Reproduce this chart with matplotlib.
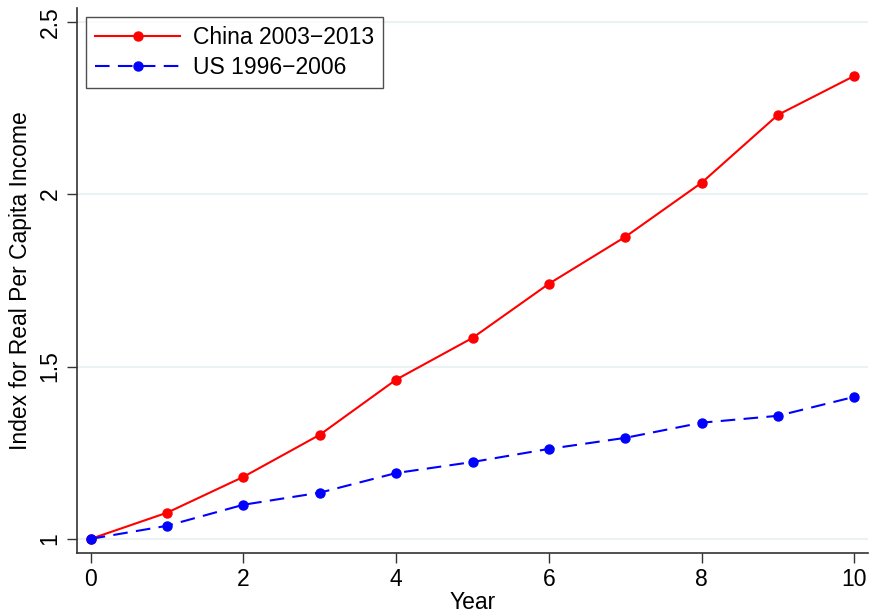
import matplotlib
matplotlib.use("Agg")
import matplotlib.pyplot as plt

years = [0, 1, 2, 3, 4, 5, 6, 7, 8, 9, 10]
china = [1.0, 1.076, 1.180, 1.302, 1.462, 1.583, 1.740, 1.876, 2.033, 2.230, 2.343]
us = [1.0, 1.038, 1.099, 1.134, 1.191, 1.223, 1.261, 1.293, 1.337, 1.357, 1.412]
xticks = [0, 2, 4, 6, 8, 10]
yticks = [1, 1.5, 2, 2.5]
ytick_labels = ["1", "1.5", "2", "2.5"]

plt.rcParams['font.family'] = ['Liberation Sans', 'DejaVu Sans']

fig = plt.figure(figsize=(8.69, 6.15), dpi=100)
ax = fig.add_axes([0.0886, 0.1008, 0.9103, 0.8862])

ax.set_axisbelow(True)
ax.grid(axis='y', color='#eaf2f3', lw=1.5)
ax.grid(axis='x', visible=False)

ax.plot(years, china, color='#ff0000', lw=1.5, marker='o', ms=6.5,
        label='China 2003\u22122013')
ax.plot(years, us, color='#0000ff', lw=1.5, marker='o', ms=6.5,
        dashes=(7, 4), label='US 1996\u22122006')

ax.set_xlim(-0.18, 10.18)
ax.set_ylim(0.959, 2.54)
ax.set_xticks(xticks)
ax.set_yticks(yticks)
ax.set_yticklabels(ytick_labels, rotation=90, va='center')
ax.tick_params(axis='both', direction='out', length=7, width=1, labelsize=16.5,
               color='#333333')
ax.tick_params(axis='x', pad=4)
ax.tick_params(axis='y', pad=4)

for s in ['top', 'right']:
    ax.spines[s].set_visible(False)
for s in ['left', 'bottom']:
    ax.spines[s].set_color('#333333')
    ax.spines[s].set_linewidth(1.2)

ax.set_xlabel('Year', fontsize=16.5, labelpad=0)
ax.set_ylabel('Index for Real Per Capita Income', fontsize=16.5, labelpad=5)

leg = ax.legend(loc='upper left', fontsize=16.5, frameon=True, fancybox=False,
                edgecolor='#222222', handlelength=3.7, handletextpad=0.55,
                borderpad=0.4, labelspacing=0.3,
                bbox_to_anchor=(0.0, 1.0), borderaxespad=0.4)
leg.get_frame().set_linewidth(1.0)

fig.savefig('out.png', dpi=100)
